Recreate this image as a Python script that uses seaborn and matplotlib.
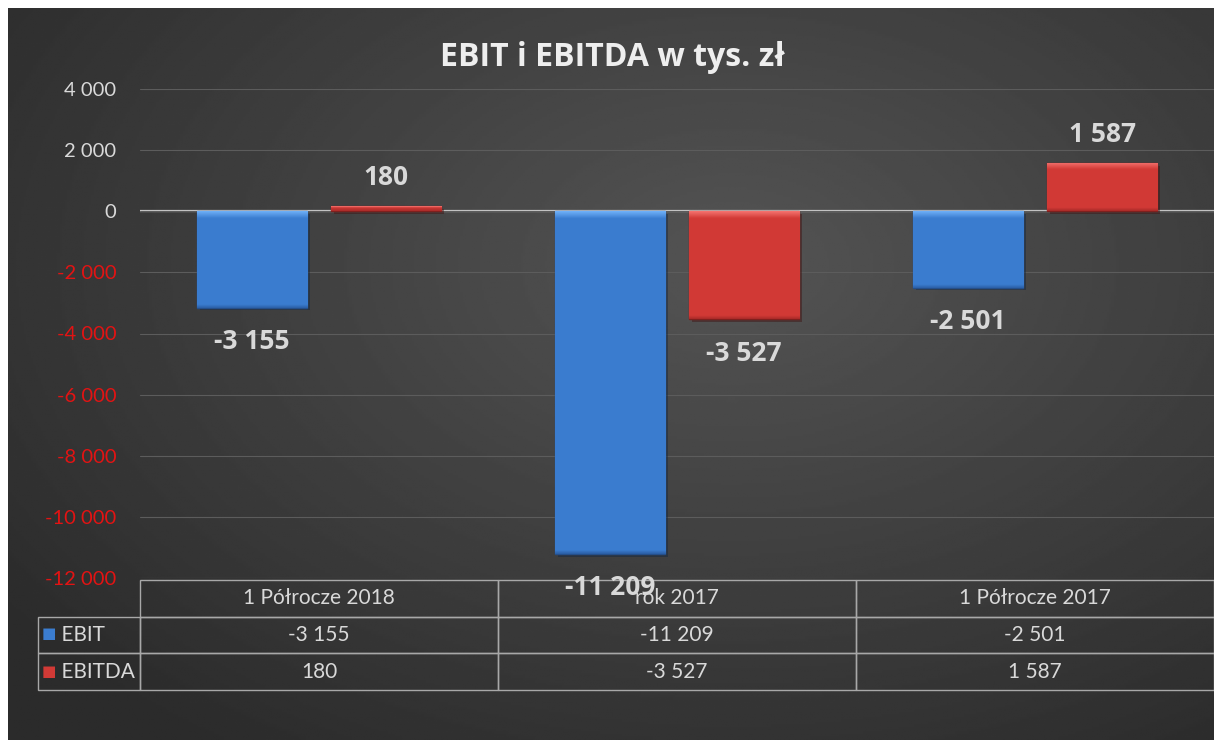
import matplotlib
matplotlib.use("Agg")
import matplotlib.pyplot as plt
import matplotlib.patheffects as pe
from matplotlib.colors import LinearSegmentedColormap
import numpy as np
import pandas as pd
import seaborn as sns

# data
categories = ["1 Półrocze 2018", "rok 2017", "1 Półrocze 2017"]
series = ["EBIT", "EBITDA"]
ebit = [-3155, -11209, -2501]
ebitda = [180, -3527, 1587]
y_ticks = [4000, 2000, 0, -2000, -4000, -6000, -8000, -10000, -12000]

colors = {"EBIT": "#3b7dd0", "EBITDA": "#d23a36"}
light_colors = {"EBIT": "#6fb0f8", "EBITDA": "#f57470"}
dark_colors = {"EBIT": "#2b5fa6", "EBITDA": "#a82a28"}
edge_colors = {"EBIT": "#254f8a", "EBITDA": "#7e201e"}
text_col = "#d9d9d9"
neg_col = "#e31313"


def fmt(v):
    return f"{int(v):,}".replace(",", " ")


df = pd.DataFrame({
    "kategoria": categories * 2,
    "seria": ["EBIT"] * 3 + ["EBITDA"] * 3,
    "wartosc": ebit + ebitda,
})

sns.set_theme(style="dark")
plt.rcParams["font.family"] = ["Lato", "DejaVu Sans"]

W, H = 1214, 740
fig = plt.figure(figsize=(W / 100, H / 100), dpi=100)
fig.patch.set_facecolor("white")

# dark radial background
bg = fig.add_axes([8 / W, 0, 1 - 8 / W, 1 - 8 / H], zorder=0)
yy, xx = np.mgrid[0:1:300j, 0:1:500j]
r = np.sqrt(((xx - 0.6) / 0.75) ** 2 + ((yy - 0.35) / 0.8) ** 2)
shade = np.clip(1 - r, 0, 1)
bg.imshow(0.17 + 0.16 * shade, cmap="gray", vmin=0, vmax=1, aspect="auto",
          extent=[0, 1, 0, 1], origin="upper")
bg.axis("off")

ax = fig.add_axes([140 / W, 1 - 578 / H, 1074 / W, 489 / H], zorder=1)
ax.patch.set_alpha(0)

sns.barplot(data=df, x="kategoria", y="wartosc", hue="seria", order=categories,
            hue_order=series, palette=colors, width=0.75, gap=0.18,
            ax=ax, legend=False, saturation=1)

ax.set_ylim(-12000, 4000)
ax.set_xlim(-0.5, 2.5)

# bevel look: light band on top, darker band at the bottom of each bar
band = 230
for cont, s in zip(ax.containers, series):
    cmap = LinearSegmentedColormap.from_list(
        s, [light_colors[s], colors[s], dark_colors[s]])
    vals = ebit if s == "EBIT" else ebitda
    for bar, v in zip(cont, vals):
        bar.set_edgecolor(edge_colors[s])
        bar.set_linewidth(1.0)
        bar.set_path_effects([pe.SimplePatchShadow(offset=(2, -2), alpha=0.45),
                              pe.Normal()])
        x0, w = bar.get_x(), bar.get_width()
        y0, h = bar.get_y(), bar.get_height()
        top, bottom = max(y0, y0 + h), min(y0, y0 + h)
        ys = np.linspace(top, bottom, 400)
        shade_v = np.full_like(ys, 0.5)
        shade_v = np.where(top - ys < band, 0.5 * (top - ys) / band, shade_v)
        shade_v = np.where(ys - bottom < band * 0.5, 0.5 + 0.5 * (1 - (ys - bottom) / (band * 0.5)), shade_v)
        im = ax.imshow(shade_v.reshape(-1, 1), cmap=cmap, vmin=0, vmax=1, aspect="auto",
                       origin="upper", extent=[x0, x0 + w, bottom, top],
                       zorder=bar.get_zorder() + 0.1, interpolation="bilinear")
        im.set_clip_path(bar)

        # value label above / below the bar end
        ax.annotate(fmt(v), (x0 + w / 2, v), xytext=(0, 20.5 if v >= 0 else -24.5),
                    textcoords="offset points", ha="center", va="center",
                    color=text_col, fontsize=19, fontweight="bold", family="Open Sans",
                    zorder=5)

ax.set_ylim(-12000, 4000)
ax.set_xlim(-0.5, 2.5)
ax.set_yticks(y_ticks)
ax.set_yticklabels([fmt(v) for v in y_ticks], fontsize=14.5)
for lbl, v in zip(ax.get_yticklabels(), y_ticks):
    lbl.set_color(neg_col if v < 0 else text_col)
ax.tick_params(axis="y", length=0, pad=17)
ax.set_xticks([])
ax.set_xlabel("")
ax.set_ylabel("")
for sp in ax.spines.values():
    sp.set_visible(False)
ax.grid(axis="y", color="#5c5c5c", linewidth=0.8)
ax.grid(axis="x", visible=False)
ax.axhline(0, color="#c8c8c8", linewidth=1.6, zorder=0.5)

fig.text(612 / W, 1 - 57 / H, "EBIT i EBITDA w tys. zł", ha="center", va="center",
         fontsize=23, fontweight="bold", color="#eeeeee", family="Open Sans")

# data table under the chart (first column = legend labels)
cell_text = [[""] + categories]
cell_text += [["    " + s] + [fmt(v) for v in vals] for s, vals in zip(series, [ebit, ebitda])]
tbl = ax.table(cellText=cell_text, cellLoc="center",
               colWidths=[102 / 1176] + [358 / 1176] * 3,
               bbox=[-102 / 1074, -0.229, 1176 / 1074, 0.225])
tbl.auto_set_font_size(False)
tbl.set_fontsize(15)
for (r_, c_), cell in tbl.get_celld().items():
    cell.set_facecolor("none")
    cell.set_edgecolor("#a8a8a8")
    cell.set_linewidth(1.0)
    cell.get_text().set_color(text_col)
    if c_ == 0:
        cell.get_text().set_horizontalalignment("left")
        cell.PAD = 0.02
    if r_ == 0 and c_ == 0:
        cell.visible_edges = ""
tbl.set_zorder(4)

for s, yrow in zip(series, [633, 671]):
    fig.text(49 / W, 1 - yrow / H, "■", color=colors[s], fontsize=11,
             ha="center", va="center", family="DejaVu Sans")

fig.savefig("out.png", dpi=100)
